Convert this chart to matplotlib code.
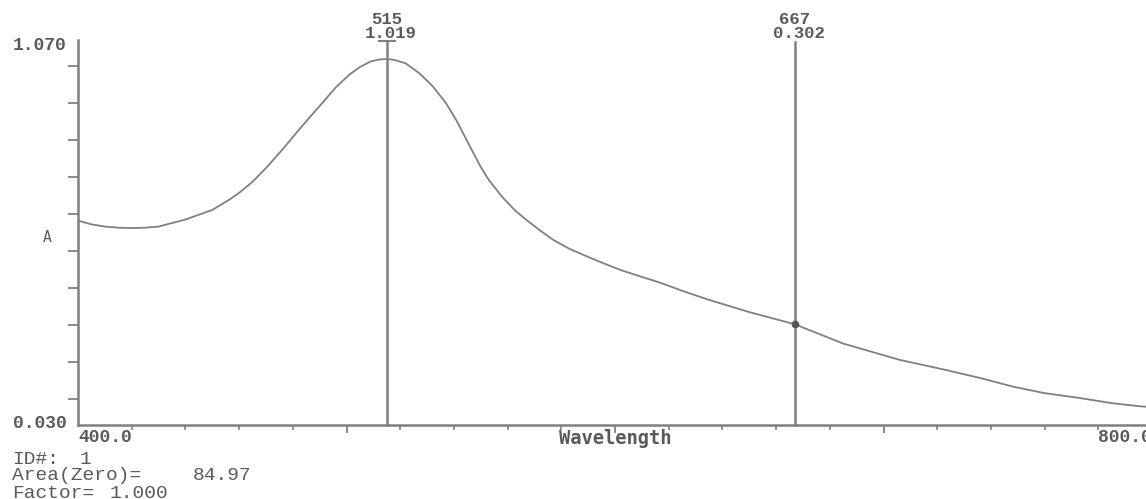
import numpy as np
import matplotlib
matplotlib.use('Agg')
import matplotlib.pyplot as plt
import matplotlib.transforms as mtransforms

# spectrum
wavelength = [400, 405, 410, 415, 420, 425, 430, 440, 450, 456, 460, 465, 470,
              476, 482, 487, 491, 496, 501, 505, 509, 512, 515, 518, 522, 527,
              532, 537, 541, 545, 550, 553, 558, 563, 567, 572, 577, 583, 590,
              596, 602, 610, 617, 626, 635, 650, 667, 685, 706, 723, 736, 748,
              760, 773, 785, 795, 800]
absorb = [0.582, 0.572, 0.566, 0.563, 0.562, 0.563, 0.566, 0.585, 0.611, 0.637,
          0.657, 0.687, 0.724, 0.773, 0.825, 0.867, 0.900, 0.942, 0.976, 0.997,
          1.012, 1.017, 1.019, 1.016, 1.007, 0.981, 0.946, 0.900, 0.852, 0.796,
          0.727, 0.692, 0.646, 0.608, 0.584, 0.556, 0.530, 0.506, 0.484, 0.466,
          0.449, 0.430, 0.414, 0.390, 0.368, 0.335, 0.302, 0.250, 0.206, 0.179,
          0.157, 0.134, 0.116, 0.103, 0.089, 0.081, 0.078]

cursor_wl = [515, 667]
cursor_val = [1.019, 0.302]
y_range = [0.030, 1.070]
x_range = [400.0, 800.0]
# (text, x pixel) pieces of the three info lines under the plot
info_lines = [[('ID#:', 12), ('1', 80)],
              [('Area(Zero)=', 12), ('84.97', 193)],
              [('Factor=', 12), ('1.000', 110)]]

gray = '#808080'
tgray = '#5a5a5a'
mono = 'Liberation Mono'
W, H = 1146, 499

fig = plt.figure(figsize=(W / 100, H / 100), dpi=100)
ax = fig.add_axes([78 / W, 74 / H, 1074 / W, 385 / H])
ax.plot(wavelength, absorb, color=gray, lw=1.3)
ax.set_xlim(*x_range)
ax.set_ylim(*y_range)

for s in ['top', 'right']:
    ax.spines[s].set_visible(False)
for s in ['left', 'bottom']:
    ax.spines[s].set_color(gray)
    ax.spines[s].set_linewidth(1.8)

# ticks, no labels
ax.set_yticks(np.arange(0.1, 1.05, 0.1))
ax.set_yticklabels([])
ax.tick_params(axis='y', direction='out', length=7, width=1.3, color=gray)
ax.set_xticks([500, 600, 700])
ax.set_xticks(np.arange(420, 800, 20), minor=True)
ax.set_xticklabels([])
ax.tick_params(axis='x', which='major', direction='out', length=6, width=1.3, color=gray)
ax.tick_params(axis='x', which='minor', direction='out', length=3.5, width=1.2, color=gray)

# axis end labels
ax.text(67 / W, 1 - 46 / H, '%.3f' % y_range[1], transform=fig.transFigure, ha='right', va='center',
        fontsize=13, family=mono, color=tgray, fontweight='bold')
ax.text(67 / W, 1 - 423 / H, '%.3f' % y_range[0], transform=fig.transFigure, ha='right', va='center',
        fontsize=13, family=mono, color=tgray, fontweight='bold')
ax.text(47 / W, 1 - 238 / H, 'A', transform=fig.transFigure, ha='center', va='center',
        fontsize=10.5, family='DejaVu Sans Mono', color=tgray)

xtr = mtransforms.blended_transform_factory(ax.transData, fig.transFigure)
ax.text(x_range[0], 1 - 437 / H, '%.1f' % x_range[0], transform=xtr, ha='left', va='center',
        fontsize=13, family=mono, color=tgray, fontweight='bold')
ax.text(x_range[1], 1 - 437 / H, '%.1f' % x_range[1], transform=xtr, ha='right', va='center',
        fontsize=13, family=mono, color=tgray, fontweight='bold', clip_on=False)
ax.text(600, 1 - 438 / H, 'Wavelength', transform=xtr, ha='center', va='center',
        fontsize=13.5, family='DejaVu Sans Mono', color=tgray, fontweight='bold')

# cursor lines with readouts
for wl, v in zip(cursor_wl, cursor_val):
    ax.plot([wl, wl], [y_range[0], 1.065], color=gray, lw=1.8, clip_on=False)
    ax.text(wl, 1 - 19 / H, '%d' % wl, transform=xtr, ha='center', va='center',
            fontsize=12.5, family=mono, color=tgray, fontweight='bold')
    ax.text(wl + 1.5, 1 - 33 / H, '%.3f' % v, transform=xtr, ha='center', va='center',
            fontsize=12.5, family=mono, color=tgray, fontweight='bold')
ax.plot([cursor_wl[0] - 3, cursor_wl[0] + 3], [1.066, 1.066], color=gray, lw=1.5, clip_on=False)
ax.plot(cursor_wl[1], cursor_val[1], 'o', ms=4.5, color='#555555')

for i, pieces in enumerate(info_lines):
    for txt, xp in pieces:
        fig.text(xp / W, 1 - (459 + 17 * i) / H, txt, ha='left', va='center',
                 fontsize=14, family=mono, color=tgray)

fig.savefig('out.png', dpi=100)
